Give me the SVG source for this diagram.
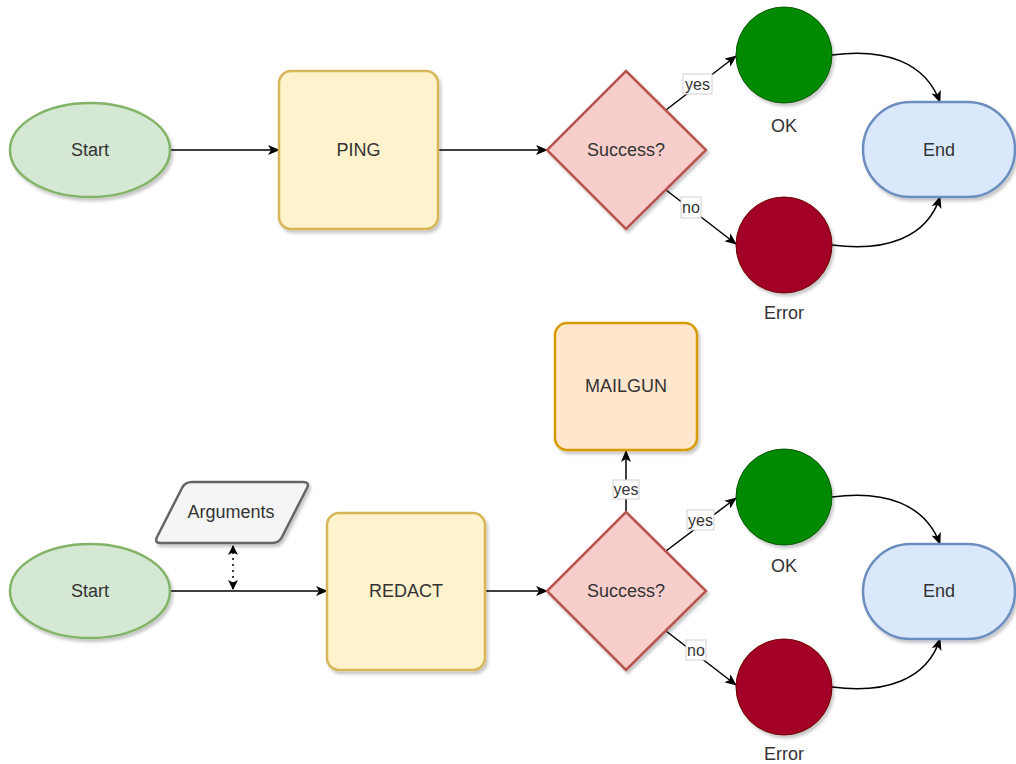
<svg xmlns="http://www.w3.org/2000/svg" width="1016" height="764" viewBox="0 0 1016 764">
<defs>
<filter id="sh" x="-10%" y="-10%" width="130%" height="130%">
<feDropShadow dx="2" dy="3" stdDeviation="1.5" flood-color="#000" flood-opacity="0.22"/>
</filter>
<marker id="arr" viewBox="0 0 12 10" refX="11" refY="5" markerWidth="12" markerHeight="10" markerUnits="userSpaceOnUse" orient="auto-start-reverse">
<path d="M0,0 L12,5 L0,10 L3,5 Z" fill="#000"/>
</marker>
<marker id="arrs" viewBox="0 0 10 10" refX="9" refY="5" markerWidth="10" markerHeight="10" markerUnits="userSpaceOnUse" orient="auto-start-reverse">
<path d="M0,0 L10,5 L0,10 L2.5,5 Z" fill="#000"/>
</marker>
</defs>
<style>
text{font-family:"Liberation Sans",Arial,sans-serif;fill:#333333;text-anchor:middle;dominant-baseline:central}
.t{font-size:18px}
.lb{font-size:16px}
.lbox{fill:#fff;stroke:#d0d0d0;stroke-width:1}
.start{fill:#d5e8d4;stroke:#82b366;stroke-width:2.5}
.proc{fill:#fff2cc;stroke:#d6b656;stroke-width:2.5}
.dec{fill:#f8cecc;stroke:#b85450;stroke-width:2.5}
.ok{fill:#008a00;stroke:#005700;stroke-width:1}
.err{fill:#a20025;stroke:#6f0000;stroke-width:1}
.end{fill:#dae8fc;stroke:#6c8ebf;stroke-width:2.5}
.arg{fill:#f5f5f5;stroke:#666666;stroke-width:2.5}
.mail{fill:#ffe6cc;stroke:#d79b00;stroke-width:2.5}
.e{fill:none;stroke:#000;stroke-width:1.5;marker-end:url(#arr)}
.sh{filter:url(#sh)}
</style>

<g id="connectors">
<path class="e" d="M170,150 L279,150"/>
<path class="e" d="M438,150 L547,150"/>
<path class="e" d="M666,110 L736,56"/>
<path class="e" d="M666,190 L736,244"/>
<path class="e" d="M832,55 C885,48 925,62 940,102"/>
<path class="e" d="M832,245 C885,252 927,238 940,197"/>
<path class="e" d="M170,591 L327,591"/>
<path d="M233,546 L233,589" fill="none" stroke="#000" stroke-width="1.5" stroke-dasharray="2,4" marker-start="url(#arrs)" marker-end="url(#arrs)"/>
<path class="e" d="M485,591 L547,591"/>
<path class="e" d="M626,512 L626,451"/>
<path class="e" d="M666,551 L736,498"/>
<path class="e" d="M666,631 L736,685"/>
<path class="e" d="M832,497 C885,490 925,504 940,544"/>
<path class="e" d="M832,687 C885,694 927,680 940,639"/>
<rect class="lbox" x="683" y="74" width="29" height="20"/>
<text class="lb" x="697.5" y="84">yes</text>
<rect class="lbox" x="681" y="197" width="20" height="21"/>
<text class="lb" x="691" y="207">no</text>
<rect class="lbox" x="613" y="480" width="26" height="19"/>
<text class="lb" x="626" y="489">yes</text>
<rect class="lbox" x="687" y="510" width="27" height="20"/>
<text class="lb" x="700.5" y="520">yes</text>
<rect class="lbox" x="686" y="640" width="20" height="20"/>
<text class="lb" x="696" y="650">no</text>
</g>

<g id="start1"><ellipse class="start sh" cx="90" cy="150" rx="80" ry="47"/><text class="t" x="90" y="150">Start</text></g>
<g id="ping"><rect class="proc sh" x="279" y="71" width="159" height="158" rx="12"/><text class="t" x="358.5" y="150">PING</text></g>
<g id="dec1"><path class="dec sh" d="M626,71 L706,150 L626,229 L547,150 Z"/><text class="t" x="626" y="150">Success?</text></g>
<g id="ok1"><circle class="ok sh" cx="784" cy="55" r="48"/><text class="t" x="784" y="126">OK</text></g>
<g id="err1"><circle class="err sh" cx="784" cy="245" r="48"/><text class="t" x="784" y="313">Error</text></g>
<g id="end1"><rect class="end sh" x="863" y="102" width="152" height="95" rx="47.5"/><text class="t" x="939" y="150">End</text></g>

<g id="start2"><ellipse class="start sh" cx="90" cy="591" rx="80" ry="47"/><text class="t" x="90" y="591">Start</text></g>
<g id="args"><path class="arg sh" d="M192,482 L303,482 Q310,482 307,488 L282,537 Q279,543 272,543 L161,543 Q154,543 157,537 L182,488 Q185,482 192,482 Z"/><text class="t" x="231" y="512">Arguments</text></g>
<g id="redact"><rect class="proc sh" x="327" y="513" width="158" height="157" rx="12"/><text class="t" x="406" y="591">REDACT</text></g>
<g id="dec2"><path class="dec sh" d="M626,512 L706,591 L626,670 L547,591 Z"/><text class="t" x="626" y="591">Success?</text></g>
<g id="mailgun"><rect class="mail sh" x="555" y="323" width="142" height="127" rx="12"/><text class="t" x="626" y="386">MAILGUN</text></g>
<g id="ok2"><circle class="ok sh" cx="784" cy="497" r="48"/><text class="t" x="784" y="566">OK</text></g>
<g id="err2"><circle class="err sh" cx="784" cy="687" r="48"/><text class="t" x="784" y="754">Error</text></g>
<g id="end2"><rect class="end sh" x="863" y="544" width="152" height="95" rx="47.5"/><text class="t" x="939" y="591">End</text></g>
</svg>
